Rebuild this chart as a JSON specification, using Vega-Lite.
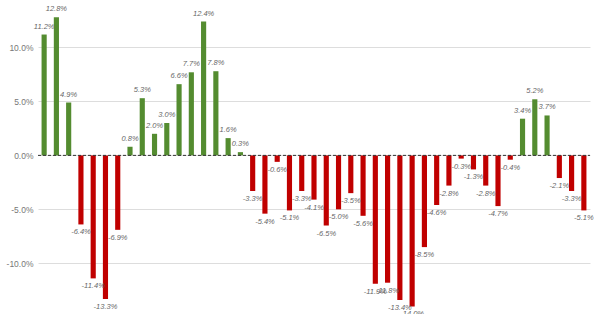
{
  "$schema": "https://vega.github.io/schema/vega-lite/v6.json",
  "width": 552,
  "height": 314,
  "autosize": {"type": "none"},
  "padding": {"left": 38, "top": 0, "right": 10, "bottom": 0},
  "background": "white",
  "config": {"view": {"stroke": null}},
  "data": {"values": [
    {"i": 1, "v": 11.2}, {"i": 2, "v": 12.8}, {"i": 3, "v": 4.9}, {"i": 4, "v": -6.4},
    {"i": 5, "v": -11.4}, {"i": 6, "v": -13.3}, {"i": 7, "v": -6.9}, {"i": 8, "v": 0.8},
    {"i": 9, "v": 5.3}, {"i": 10, "v": 2.0}, {"i": 11, "v": 3.0}, {"i": 12, "v": 6.6},
    {"i": 13, "v": 7.7}, {"i": 14, "v": 12.4}, {"i": 15, "v": 7.8}, {"i": 16, "v": 1.6},
    {"i": 17, "v": 0.3}, {"i": 18, "v": -3.3}, {"i": 19, "v": -5.4}, {"i": 20, "v": -0.6},
    {"i": 21, "v": -5.1}, {"i": 22, "v": -3.3}, {"i": 23, "v": -4.1}, {"i": 24, "v": -6.5},
    {"i": 25, "v": -5.0}, {"i": 26, "v": -3.5}, {"i": 27, "v": -5.6}, {"i": 28, "v": -11.9},
    {"i": 29, "v": -11.8}, {"i": 30, "v": -13.4}, {"i": 31, "v": -14.0}, {"i": 32, "v": -8.5},
    {"i": 33, "v": -4.6}, {"i": 34, "v": -2.8}, {"i": 35, "v": -0.3}, {"i": 36, "v": -1.3},
    {"i": 37, "v": -2.8}, {"i": 38, "v": -4.7}, {"i": 39, "v": -0.4}, {"i": 40, "v": 3.4},
    {"i": 41, "v": 5.2}, {"i": 42, "v": 3.7}, {"i": 43, "v": -2.1}, {"i": 44, "v": -3.3},
    {"i": 45, "v": -5.1}
  ]},
  "transform": [{"calculate": "(datum.v < 0 ? '-' : '') + format(abs(datum.v), '.1f') + '%'", "as": "lab"}],
  "encoding": {
    "x": {"field": "i", "type": "ordinal", "axis": null,
          "scale": {"paddingInner": 0.58, "paddingOuter": 0.29}},
    "y": {"field": "v", "type": "quantitative",
          "scale": {"domain": [-14.7, 14.4], "nice": false, "zero": false},
          "axis": {"values": [-10, -5, 0, 5, 10], "title": null, "domain": false, "ticks": false,
                   "labelExpr": "(datum.value < 0 ? '-' : '') + format(abs(datum.value), '.1f') + '%'", "labelFont": "Liberation Sans",
                   "labelFontSize": 8.5, "labelColor": "#777777", "labelPadding": 5,
                   "gridColor": "#dddddd", "gridWidth": 1}}
  },
  "layer": [
    {
      "mark": {"type": "bar"},
      "encoding": {
        "color": {"condition": {"test": "datum.v >= 0", "value": "#548c30"}, "value": "#c00000"}
      }
    },
    {
      "transform": [{"filter": "datum.v >= 0"}],
      "mark": {"type": "text", "baseline": "bottom", "dy": -4, "font": "Liberation Sans",
               "fontStyle": "italic", "fontSize": 7.5, "color": "#666666"},
      "encoding": {"text": {"field": "lab"}}
    },
    {
      "transform": [{"filter": "datum.v < 0"}],
      "mark": {"type": "text", "baseline": "top", "dy": 4, "font": "Liberation Sans",
               "fontStyle": "italic", "fontSize": 7.5, "color": "#666666"},
      "encoding": {"text": {"field": "lab"}}
    },
    {
      "data": {"values": [{"z": 0}]},
      "mark": {"type": "rule", "color": "#333333", "strokeDash": [3, 2], "strokeWidth": 1},
      "encoding": {"y": {"field": "z", "type": "quantitative"}, "x": {"value": 0}, "x2": {"value": 552}}
    }
  ]
}
